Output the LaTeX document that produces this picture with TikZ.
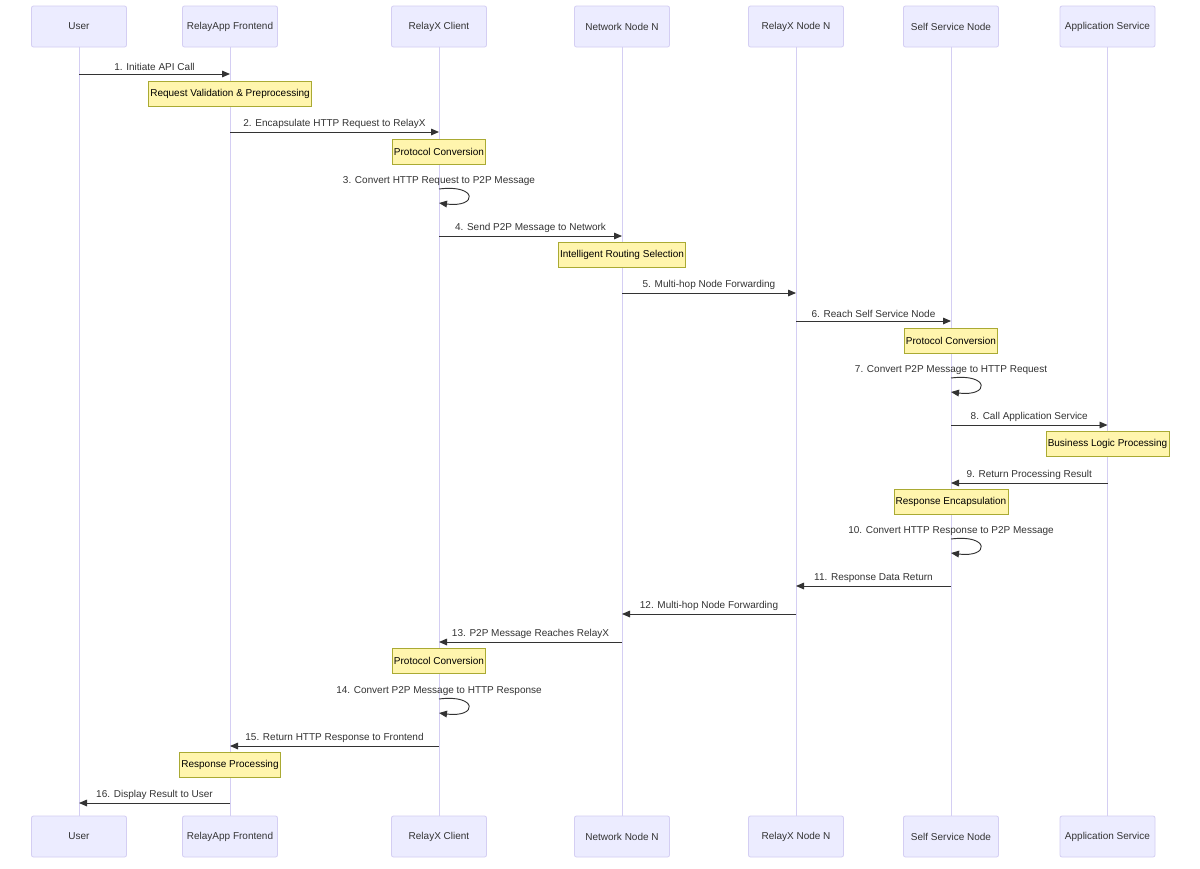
\documentclass[tikz,border=0pt]{standalone}
\usepackage{fontspec}
\setmainfont{Liberation Sans}
\usetikzlibrary{arrows.meta}
\definecolor{actorfill}{HTML}{ECECFF}
\definecolor{actorline}{HTML}{D4CEF3}
\definecolor{notefill}{HTML}{FFF5AD}
\definecolor{noteline}{HTML}{AAAA33}
\definecolor{ink}{HTML}{333333}
\begin{document}
\begin{tikzpicture}[
    x=0.75pt, y=-0.75pt,
    font=\fontsize{7.5pt}{9pt}\selectfont,
    actor/.style={draw=actorline, fill=actorfill, rounded corners=1.5pt, line width=0.6pt,
        minimum width=71.25pt, minimum height=30.75pt, inner sep=0pt, text=ink},
    life/.style={draw=actorline, line width=0.75pt},
    msg/.style={draw=ink, line width=0.7pt, -{Triangle[length=6pt,width=5pt]}},
    mlabel/.style={midway, above, inner sep=2.25pt, text=ink},
    slabel/.style={above, inner sep=2.25pt, text=ink},
    note/.style={draw=noteline, fill=notefill, line width=0.5pt, minimum height=18.75pt,
        inner xsep=1.2pt, inner ysep=0pt, text=black}
    ]
    \useasboundingbox[fill=white] (0,0) rectangle (1200,868);
    % actors, top and bottom
    \node [actor] (user)   at (79,26.5)   {User};
    \node [actor] (front)  at (230,26.5)  {RelayApp Frontend};
    \node [actor] (client) at (439,26.5)  {RelayX Client};
    \node [actor] (net)    at (622,26.5)  {Network Node N};
    \node [actor] (relay)  at (796,26.5)  {RelayX Node N};
    \node [actor] (svc)    at (951,26.5)  {Self Service Node};
    \node [actor] (app)    at (1107.5,26.5) {Application Service};
    \node [actor] (userB)   at (79,836.5)   {User};
    \node [actor] (frontB)  at (230,836.5)  {RelayApp Frontend};
    \node [actor] (clientB) at (439,836.5)  {RelayX Client};
    \node [actor] (netB)    at (622,836.5)  {Network Node N};
    \node [actor] (relayB)  at (796,836.5)  {RelayX Node N};
    \node [actor] (svcB)    at (951,836.5)  {Self Service Node};
    \node [actor] (appB)    at (1107.5,836.5) {Application Service};
    % lifelines
    \foreach \a in {user,front,client,net,relay,svc,app}
        \draw [life] (\a.south) -- (\a B.north);
    % messages
    \draw [msg] (user |- 0,74) -- (front |- 0,74) node [mlabel] {1. Initiate API Call};
    \node [note] (n1) at (front |- 0,93.5) {Request Validation \& Preprocessing};
    \draw [msg] (front |- 0,132) -- (client |- 0,132) node [mlabel] {2. Encapsulate HTTP Request to RelayX};
    \node [note] (n2) at (client |- 0,151.5) {Protocol Conversion};
    \node [slabel] (l3) at (client |- 0,189) {3. Convert HTTP Request to P2P Message};
    \draw [msg] (client |- 0,189) .. controls +(39,-5) and +(39,5) .. (client |- 0,203);
    \draw [msg] (client |- 0,236) -- (net |- 0,236) node [mlabel] {4. Send P2P Message to Network};
    \node [note] (n3) at (net |- 0,254.5) {Intelligent Routing Selection};
    \draw [msg] (net |- 0,293) -- (relay |- 0,293) node [mlabel] {5. Multi-hop Node Forwarding};
    \draw [msg] (relay |- 0,321) -- (svc |- 0,321) node [mlabel] {6. Reach Self Service Node};
    \node [note] (n4) at (svc |- 0,340.5) {Protocol Conversion};
    \node [slabel] (l7) at (svc |- 0,378) {7. Convert P2P Message to HTTP Request};
    \draw [msg] (svc |- 0,378) .. controls +(39,-5) and +(39,5) .. (svc |- 0,392);
    \draw [msg] (svc |- 0,425) -- (app |- 0,425) node [mlabel] {8. Call Application Service};
    \node [note] (n5) at (app |- 0,443.5) {Business Logic Processing};
    \draw [msg] (app |- 0,483) -- (svc |- 0,483) node [mlabel] {9. Return Processing Result};
    \node [note] (n6) at (svc |- 0,501.5) {Response Encapsulation};
    \node [slabel] (l10) at (svc |- 0,539) {10. Convert HTTP Response to P2P Message};
    \draw [msg] (svc |- 0,539) .. controls +(39,-5) and +(39,5) .. (svc |- 0,553);
    \draw [msg] (svc |- 0,586) -- (relay |- 0,586) node [mlabel] {11. Response Data Return};
    \draw [msg] (relay |- 0,614) -- (net |- 0,614) node [mlabel] {12. Multi-hop Node Forwarding};
    \draw [msg] (net |- 0,642) -- (client |- 0,642) node [mlabel] {13. P2P Message Reaches RelayX};
    \node [note] (n7) at (client |- 0,660.5) {Protocol Conversion};
    \node [slabel] (l14) at (client |- 0,699) {14. Convert P2P Message to HTTP Response};
    \draw [msg] (client |- 0,699) .. controls +(39,-5) and +(39,5) .. (client |- 0,713);
    \draw [msg] (client |- 0,746) -- (front |- 0,746) node [mlabel] {15. Return HTTP Response to Frontend};
    \node [note] (n8) at (front |- 0,764.5) {Response Processing};
    \draw [msg] (front |- 0,803) -- (user |- 0,803) node [mlabel] {16. Display Result to User};
\end{tikzpicture}
\end{document}
